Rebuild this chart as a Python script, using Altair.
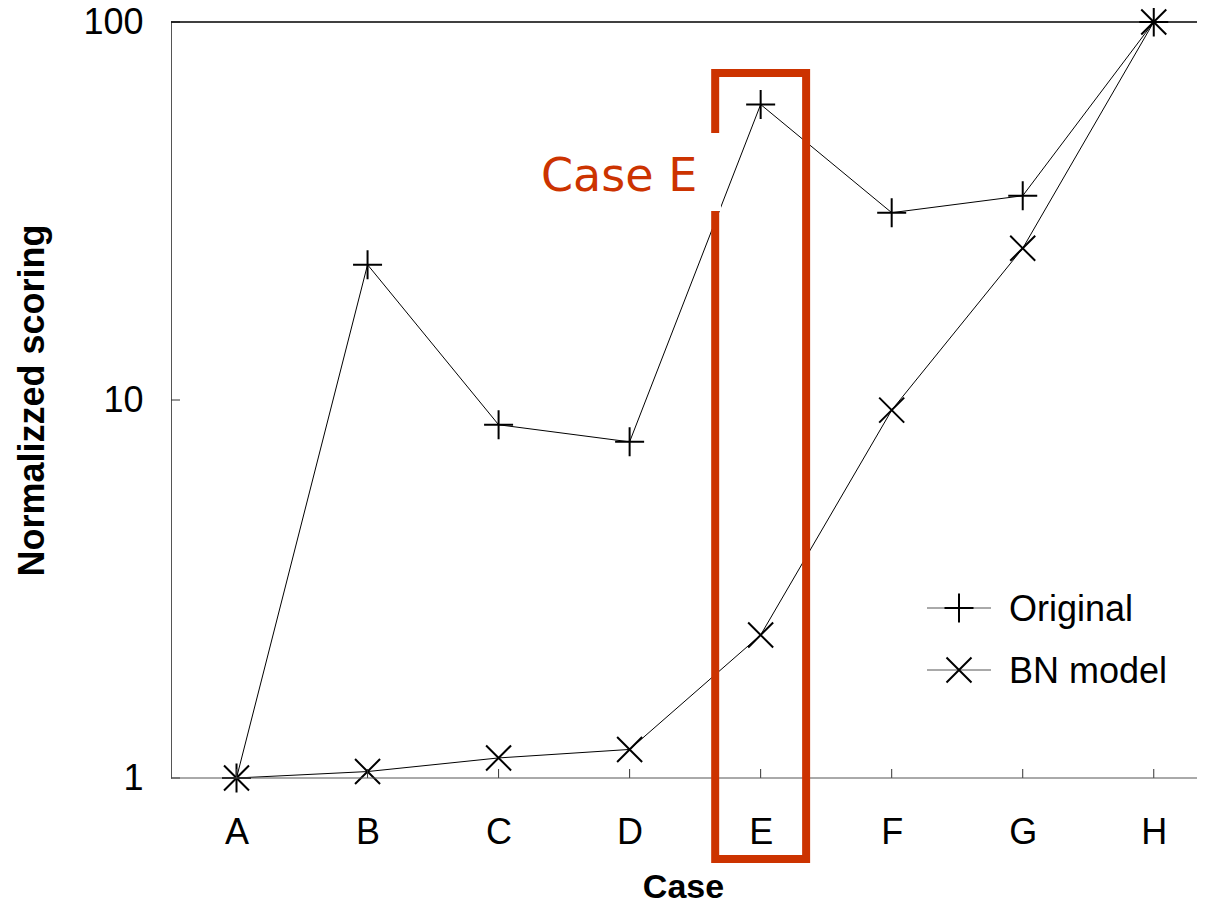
import altair as alt
import pandas as pd

# ---- data ----
cases = ["A", "B", "C", "D", "E", "F", "G", "H"]
original = [1.0, 22.8, 8.6, 7.75, 60.5, 31.3, 34.7, 100.0]
bn_model = [1.0, 1.04, 1.13, 1.19, 2.39, 9.4, 25.2, 100.0]
series_names = ["Original", "BN model"]
y_ticks = [1, 10, 100]
highlight_case = "E"
highlight_label = "Case E"

W, H = 1026, 756
RED = "#cc3300"
FONT = "Liberation Sans"

rows = []
for i, c in enumerate(cases):
    rows.append({"idx": i, "case": c, "series": "Original", "value": original[i]})
    rows.append({"idx": i, "case": c, "series": "BN model", "value": bn_model[i]})
df = pd.DataFrame(rows)

PLUS = "M-1,0L1,0M0,-1L0,1"
CROSS = "M-1,-1L1,1M-1,1L1,-1"
label_expr = "[" + ",".join(f"'{c}'" for c in cases) + "][datum.value]"

xscale = alt.Scale(domain=[-0.5, 7.33], nice=False, zero=False)
yscale = alt.Scale(type="log", domain=[1, 100], nice=False)

xaxis = alt.Axis(
    values=list(range(len(cases))), labelExpr=label_expr, ticks=False, tickSize=0,
    domain=False, grid=False, labelFont=FONT, labelFontSize=36, labelColor="black",
    labelPadding=37, labelFlush=False, title="Case", titleFont=FONT, titleFontSize=34,
    titleFontWeight="bold", titleColor="black", titleX=512, titleY=119,
    titleBaseline="alphabetic", titleAlign="center",
)
yaxis = alt.Axis(
    values=y_ticks, labelExpr="datum.value", ticks=False, tickSize=0, domain=True,
    domainColor="#555555", domainWidth=1, grid=False, labelFont=FONT, labelFontSize=36,
    labelColor="black", labelPadding=28, labelBaseline="middle", labelFlush=False,
    title="Normalizzed scoring", titleFont=FONT, titleFontSize=36, titleFontWeight="bold",
    titleColor="black", titleAngle=-90, titleX=-128, titleY=378,
    titleBaseline="alphabetic", titleAlign="center",
)

base = alt.Chart(df)
lines = base.mark_line(strokeWidth=1, color="black").encode(
    x=alt.X("idx:Q", scale=xscale, axis=xaxis),
    y=alt.Y("value:Q", scale=yscale, axis=yaxis),
    detail="series:N",
)
points = base.mark_point(filled=False, strokeWidth=2, color="black", opacity=1).encode(
    x=alt.X("idx:Q", scale=xscale),
    y=alt.Y("value:Q", scale=yscale),
    shape=alt.Shape("series:N", scale=alt.Scale(domain=series_names, range=[PLUS, CROSS]), legend=None),
    size=alt.Size("series:N", scale=alt.Scale(domain=series_names, range=[841, 625]), legend=None),
)

# inward ticks
xt = alt.Chart(pd.DataFrame({"idx": list(range(len(cases)))})).mark_rule(color="#333333", strokeWidth=1).encode(
    x=alt.X("idx:Q", scale=xscale), y=alt.value(H), y2=alt.value(H - 9)
)
yt = alt.Chart(pd.DataFrame({"v": y_ticks})).mark_rule(color="#333333", strokeWidth=1).encode(
    y=alt.Y("v:Q", scale=yscale), x=alt.value(0), x2=alt.value(9)
)
frame_df = pd.DataFrame({"k": [0]})
top_rule = alt.Chart(frame_df).mark_rule(color="black", strokeWidth=1.3).encode(
    x=alt.value(0), x2=alt.value(W), y=alt.value(0)
)
bottom_rule = alt.Chart(frame_df).mark_rule(color="#555555", strokeWidth=1).encode(
    x=alt.value(0), x2=alt.value(W), y=alt.value(H)
)

# highlight box around case E
hi = cases.index(highlight_case)
box = alt.Chart(pd.DataFrame({"x0": [hi - 0.347], "x1": [hi + 0.347]})).mark_rect(
    fillOpacity=0, stroke=RED, strokeWidth=8
).encode(
    x=alt.X("x0:Q", scale=xscale), x2="x1:Q", y=alt.value(51), y2=alt.value(837)
)
white = alt.Chart(frame_df).mark_rect(color="white").encode(
    x=alt.value(359), x2=alt.value(550), y=alt.value(111), y2=alt.value(189)
)
label = alt.Chart(pd.DataFrame({"t": [highlight_label]})).mark_text(
    align="left", baseline="alphabetic", font="DejaVu Sans", fontSize=46, color=RED
).encode(x=alt.value(370), y=alt.value(169), text="t:N")

# legend
legend_layers = []
for i, name in enumerate(series_names):
    ldf = pd.DataFrame({"s": [name]})
    yy = 586 + 62 * i
    legend_layers.append(
        alt.Chart(ldf).mark_rule(color="#555555", strokeWidth=1).encode(
            x=alt.value(756), x2=alt.value(820), y=alt.value(yy)
        )
    )
    legend_layers.append(
        alt.Chart(ldf).mark_point(
            shape=[PLUS, CROSS][i], size=[841, 625][i], filled=False, strokeWidth=2,
            color="black", opacity=1
        ).encode(x=alt.value(788), y=alt.value(yy))
    )
    legend_layers.append(
        alt.Chart(ldf).mark_text(
            align="left", baseline="alphabetic", font=FONT, fontSize=36, color="black"
        ).encode(x=alt.value(838), y=alt.value(yy + 13), text="s:N")
    )

chart = alt.layer(
    lines, points, xt, yt, top_rule, bottom_rule, box, white, label, *legend_layers
).properties(
    width=W, height=H,
    background="white",
    autosize=alt.AutoSizeParams(type="none"),
    padding={"left": 163, "top": 14, "right": 0, "bottom": 124},
).configure_view(stroke=None)

chart.save("out.html", embed_options={"renderer": "svg", "actions": False})
